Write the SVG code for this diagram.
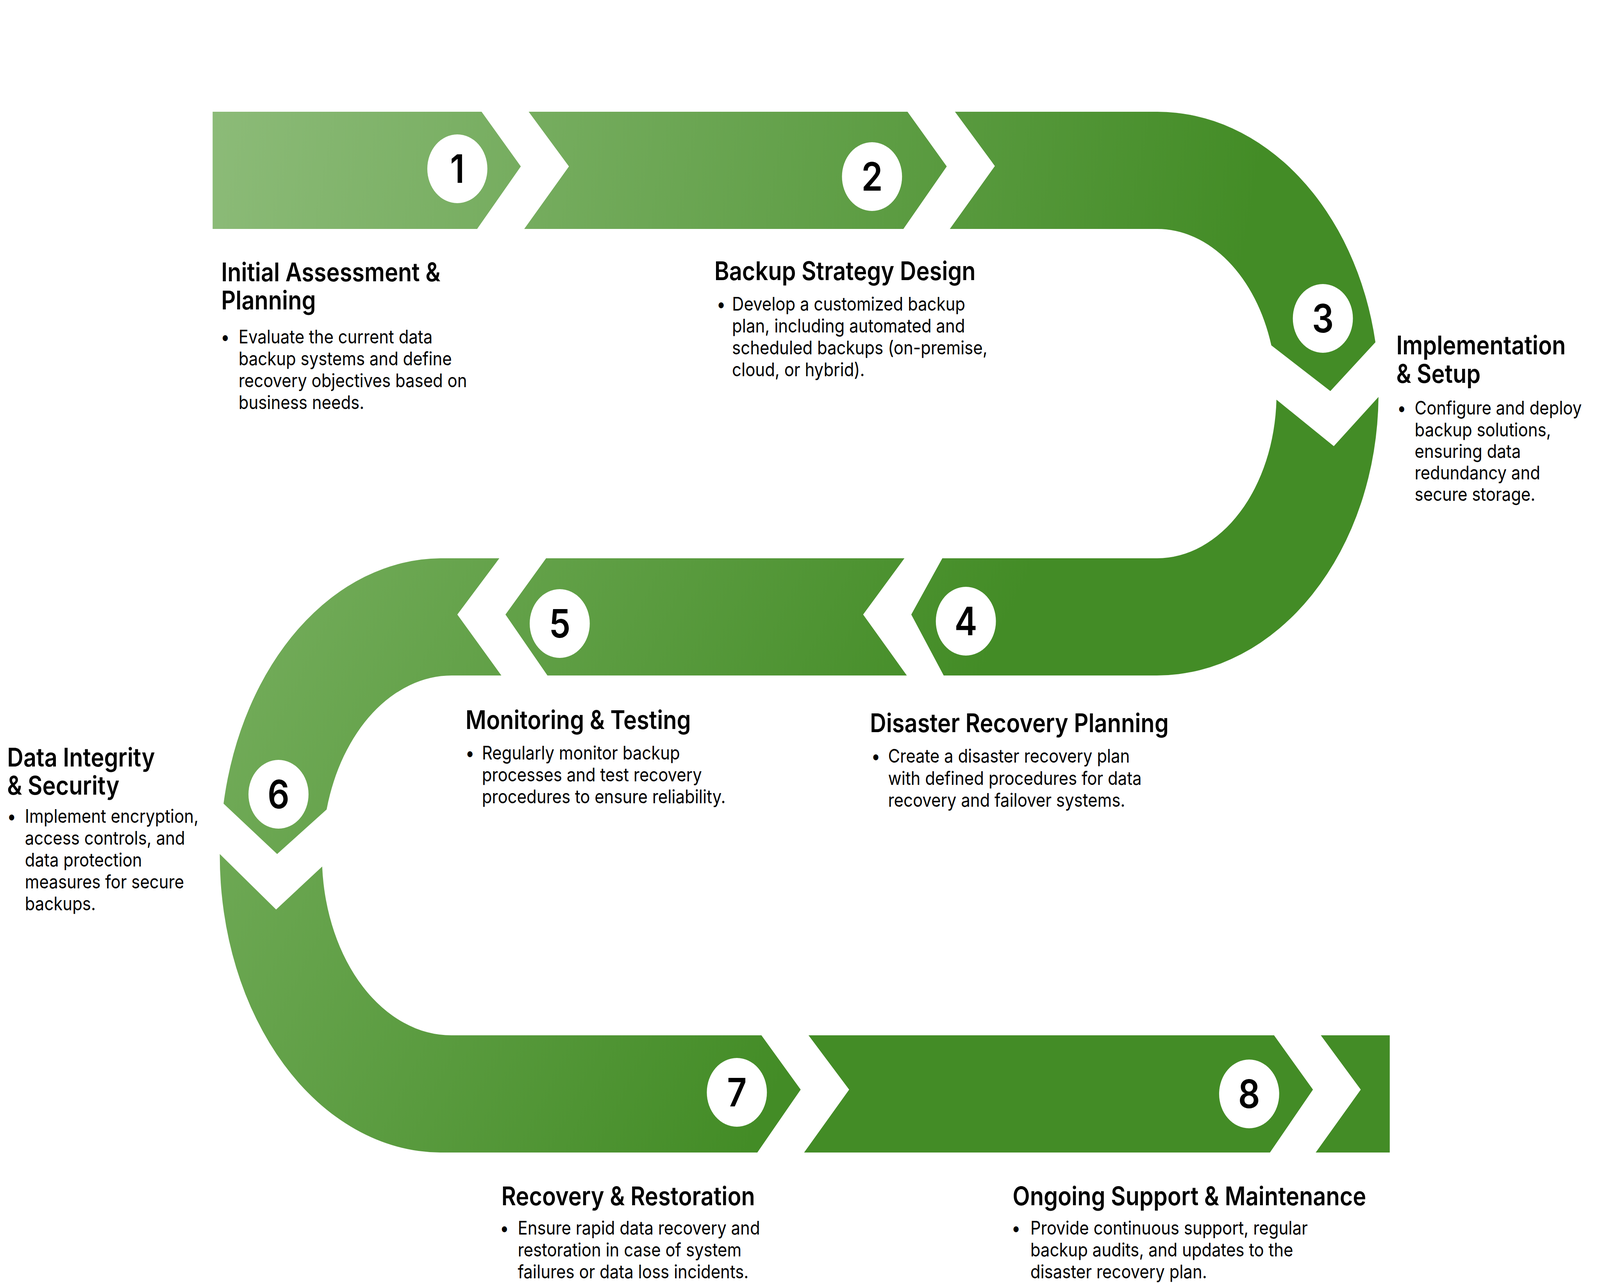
<svg xmlns="http://www.w3.org/2000/svg" width="4688" height="3284" viewBox="0 0 4688 3284" preserveAspectRatio="none" style="width:100vw;height:100vh;display:block">
<defs>
<linearGradient id="gTop" gradientUnits="userSpaceOnUse" x1="623" y1="286" x2="3600" y2="900">
<stop offset="0" stop-color="#8cbb78"/>
<stop offset="1" stop-color="#438c26"/>
</linearGradient>
<linearGradient id="gLow" gradientUnits="userSpaceOnUse" x1="900" y1="1500" x2="2500" y2="2400">
<stop offset="0" stop-color="#70aa57"/>
<stop offset="1" stop-color="#438c26"/>
</linearGradient>
<style>
.t{font-family:Inter,"Liberation Sans",sans-serif;font-weight:600;font-size:66px;fill:#000}
.b{font-family:Inter,"Liberation Sans",sans-serif;font-weight:400;font-size:48px;fill:#000}
.n{font-family:Inter,"Liberation Sans",sans-serif;font-weight:600;font-size:100px;fill:#000;text-anchor:middle}
.c{fill:#fff}
.top{fill:url(#gTop)}
.low{fill:url(#gLow)}
</style>
</defs>
<rect width="4688" height="3284" fill="#fff"/>

<g id="node1">
<path class="top" d="M623,286 L1411,286 L1526,426 L1398,586 L623,586 Z"/>
<circle class="c" cx="1340" cy="432" r="88"/>
<text class="n" x="1340" y="468">1</text>
<text class="t" x="648" y="720">Initial Assessment &amp;</text>
<text class="t" x="648" y="792">Planning</text>
<text class="b" x="660" y="879" text-anchor="middle">•</text>
<text class="b" x="699" y="879">Evaluate the current data</text>
<text class="b" x="699" y="935">backup systems and define</text>
<text class="b" x="699" y="991">recovery objectives based on</text>
<text class="b" x="699" y="1047">business needs.</text>
</g>

<g id="node2">
<path class="top" d="M1549,286 L2659,286 L2774,426 L2647,586 L1536,586 L1667,426 Z"/>
<circle class="c" cx="2555" cy="452" r="88"/>
<text class="n" x="2555" y="488">2</text>
<text class="t" x="2093" y="717">Backup Strategy Design</text>
<text class="b" x="2113" y="795" text-anchor="middle">•</text>
<text class="b" x="2145" y="795">Develop a customized backup</text>
<text class="b" x="2145" y="851">plan, including automated and</text>
<text class="b" x="2145" y="907">scheduled backups (on-premise,</text>
<text class="b" x="2145" y="963">cloud, or hybrid).</text>
</g>

<g id="node3">
<path class="top" d="M2798,286 L3390,286 A650,721.5 0 0 1 4030,876 L3898,1001 L3725,884 A350,421.5 0 0 0 3390,586 L2783,586 L2915,425 Z"/>
<circle class="c" cx="3876" cy="815" r="88"/>
<text class="n" x="3876" y="851">3</text>
<text class="t" x="4091" y="907">Implementation</text>
<text class="t" x="4091" y="980">&amp; Setup</text>
<text class="b" x="4107" y="1061" text-anchor="middle">•</text>
<text class="b" x="4145" y="1061">Configure and deploy</text>
<text class="b" x="4145" y="1117">backup solutions,</text>
<text class="b" x="4145" y="1172">ensuring data</text>
<text class="b" x="4145" y="1227">redundancy and</text>
<text class="b" x="4145" y="1282">secure storage.</text>
</g>

<g id="node4">
<path class="low" d="M3740,1023 L3908,1142 L4039,1016 A650,721.5 0 0 1 3390,1729 L2765,1729 L2670,1573 L2761,1429 L3390,1429 A350,421.5 0 0 0 3740,1023 Z"/>
<circle class="c" cx="2830" cy="1590" r="88"/>
<text class="n" x="2830" y="1626">4</text>
<text class="t" x="2549" y="1874">Disaster Recovery Planning</text>
<text class="b" x="2566" y="1952" text-anchor="middle">•</text>
<text class="b" x="2602" y="1952">Create a disaster recovery plan</text>
<text class="b" x="2602" y="2009">with defined procedures for data</text>
<text class="b" x="2602" y="2065">recovery and failover systems.</text>
</g>

<g id="node5">
<path class="low" d="M1600,1429 L2650,1429 L2529,1573 L2657,1729 L1604,1729 L1481,1573 Z"/>
<circle class="c" cx="1640" cy="1596" r="88"/>
<text class="n" x="1640" y="1632">5</text>
<text class="t" x="1364" y="1866">Monitoring &amp; Testing</text>
<text class="b" x="1377" y="1944" text-anchor="middle">•</text>
<text class="b" x="1412" y="1944">Regularly monitor backup</text>
<text class="b" x="1412" y="2000">processes and test recovery</text>
<text class="b" x="1412" y="2056">procedures to ensure reliability.</text>
</g>

<g id="node6">
<path class="low" d="M1463,1429 L1290,1429 A649,760.5 0 0 0 655,2057 L812,2186 L957,2072 A379,460.5 0 0 1 1323,1729 L1469,1729 L1340,1573 Z"/>
<circle class="c" cx="816" cy="2033" r="88"/>
<text class="n" x="816" y="2069">6</text>
<text class="t" x="21" y="1962">Data Integrity</text>
<text class="t" x="21" y="2034">&amp; Security</text>
<text class="b" x="34" y="2106" text-anchor="middle">•</text>
<text class="b" x="73" y="2106">Implement encryption,</text>
<text class="b" x="73" y="2162">access controls, and</text>
<text class="b" x="73" y="2218">data protection</text>
<text class="b" x="73" y="2274">measures for secure</text>
<text class="b" x="73" y="2330">backups.</text>
</g>

<g id="node7">
<path class="low" d="M644,2186 L809,2328 L944,2218 A379,460.5 0 0 0 1323,2650 L2231,2650 L2346,2789 L2219,2950 L1290,2950 A649,760.5 0 0 1 644,2186 Z"/>
<circle class="c" cx="2159" cy="2796" r="88"/>
<text class="n" x="2159" y="2832">7</text>
<text class="t" x="1469" y="3085">Recovery &amp; Restoration</text>
<text class="b" x="1478" y="3160" text-anchor="middle">•</text>
<text class="b" x="1517" y="3160">Ensure rapid data recovery and</text>
<text class="b" x="1517" y="3216">restoration in case of system</text>
<text class="b" x="1517" y="3272">failures or data loss incidents.</text>
</g>

<g id="node8">
<path class="low" d="M2369,2650 L3733,2650 L3847,2789 L3721,2950 L2356,2950 L2488,2789 Z"/>
<path class="low" d="M3870,2650 L4072,2650 L4072,2950 L3855,2950 L3987,2789 Z"/>
<circle class="c" cx="3660" cy="2800" r="88"/>
<text class="n" x="3660" y="2836">8</text>
<text class="t" x="2967" y="3085">Ongoing Support &amp; Maintenance</text>
<text class="b" x="2977" y="3160" text-anchor="middle">•</text>
<text class="b" x="3019" y="3160">Provide continuous support, regular</text>
<text class="b" x="3019" y="3216">backup audits, and updates to the</text>
<text class="b" x="3019" y="3272">disaster recovery plan.</text>
</g>
</svg>
